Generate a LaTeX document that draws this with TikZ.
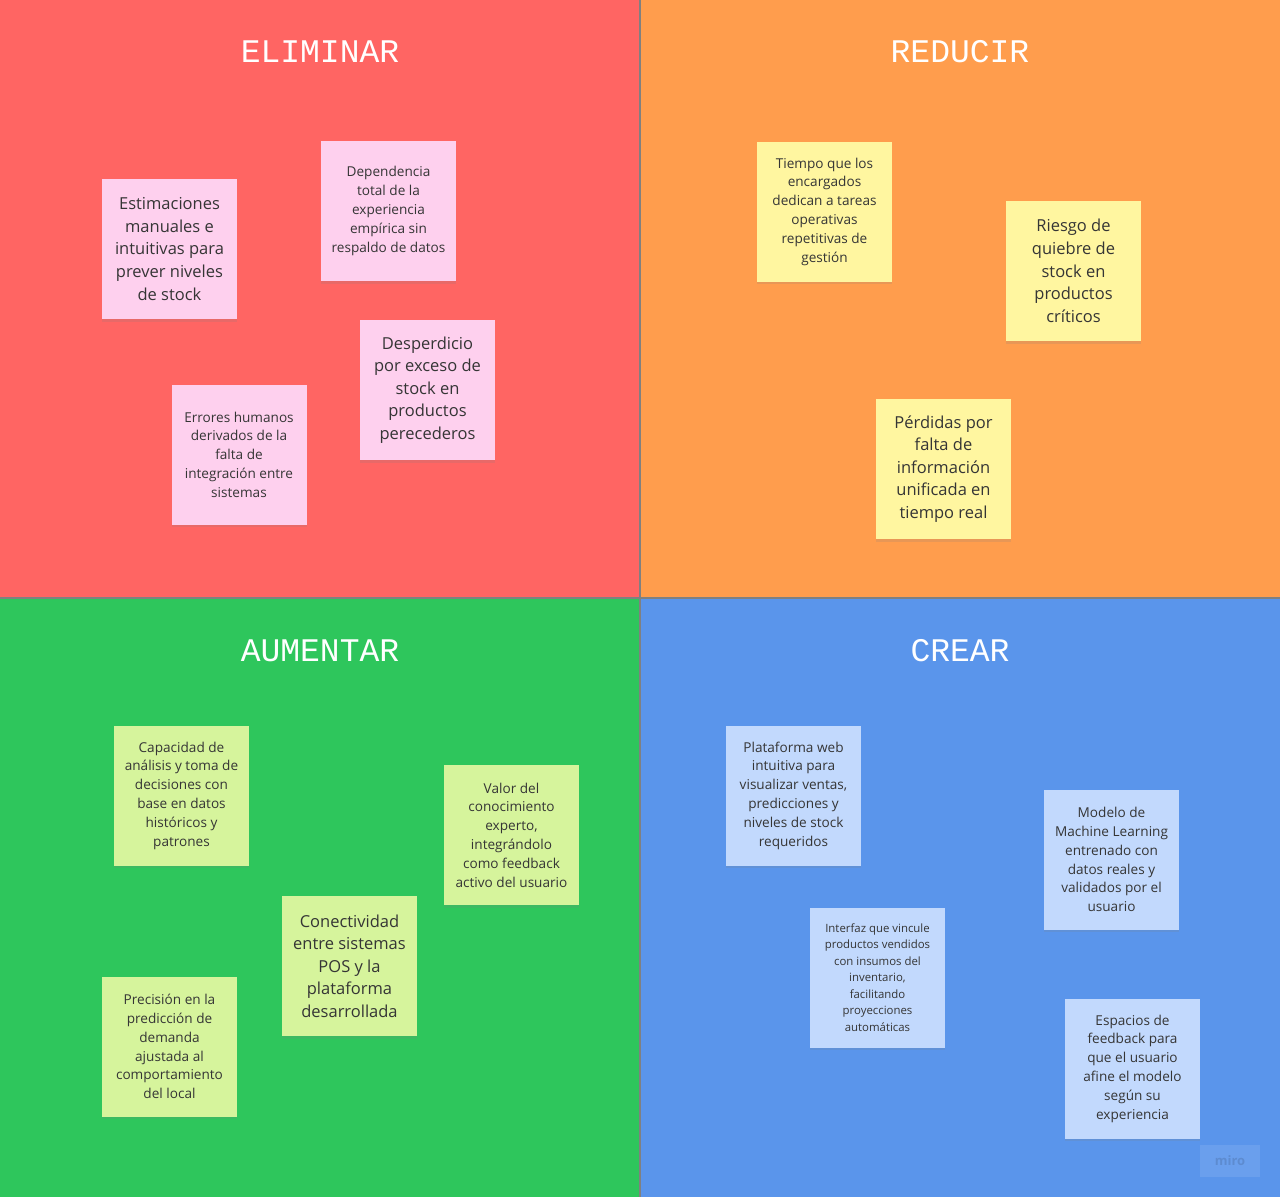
\documentclass[tikz,border=0pt]{standalone}
\usepackage{fontspec}
\setmainfont{Open Sans}
\newfontfamily\titlefont{Liberation Mono}
\usetikzlibrary{shadows}

\definecolor{qred}{HTML}{FF6563}
\definecolor{qorange}{HTML}{FF9D4D}
\definecolor{qgreen}{HTML}{2EC65C}
\definecolor{qblue}{HTML}{5A95EB}
\definecolor{npink}{HTML}{FED0EE}
\definecolor{nyellow}{HTML}{FFF6A0}
\definecolor{ngreen}{HTML}{D6F49C}
\definecolor{nblue}{HTML}{C2D9FD}
\definecolor{notetext}{HTML}{353535}
\definecolor{divider}{HTML}{808080}

\tikzset{
  note/.style={rectangle, minimum width=135pt, minimum height=140pt,
    inner sep=0pt, align=center, text=notetext,
    drop shadow={opacity=0.18, shadow xshift=0pt, shadow yshift=-2.5pt}},
  bigtxt/.style={font=\fontsize{16.5}{22.6}\selectfont},
  smalltxt/.style={font=\fontsize{13.6}{18.8}\selectfont},
  tinytxt/.style={font=\fontsize{11.4}{16.5}\selectfont},
  pinknote/.style={note, fill=npink},
  yellownote/.style={note, fill=nyellow},
  greennote/.style={note, fill=ngreen},
  bluenote/.style={note, fill=nblue},
  quadtitle/.style={text=white, font=\titlefont\fontsize{33}{33}\selectfont}
}

\begin{document}
\begin{tikzpicture}[x=1pt,y=-1pt]
\useasboundingbox (0,0) rectangle (1280,1197);

% quadrant backgrounds
\fill[qred]    (0,0)     rectangle (640,598);
\fill[qorange] (640,0)   rectangle (1280,598);
\fill[qgreen]  (0,598)   rectangle (640,1197);
\fill[qblue]   (640,598) rectangle (1280,1197);
\draw[divider, line width=1.5pt] (640,0) -- (640,1197);
\draw[divider, line width=1.5pt] (0,598) -- (1280,598);

% quadrant titles
\node[quadtitle] (tElim) at (320,52)  {ELIMINAR};
\node[quadtitle] (tRed)  at (960,52)  {REDUCIR};
\node[quadtitle] (tAum)  at (320,651) {AUMENTAR};
\node[quadtitle] (tCre)  at (960,651) {CREAR};

% ELIMINAR
\node[pinknote, bigtxt]   (e1) at (169.5,249)   {Estimaciones\\manuales e\\intuitivas para\\prever niveles\\de stock};
\node[pinknote, smalltxt] (e2) at (388.5,211)   {Dependencia\\total de la\\experiencia\\empírica sin\\respaldo de datos};
\node[pinknote, bigtxt]   (e3) at (427.5,390)   {Desperdicio\\por exceso de\\stock en\\productos\\perecederos};
\node[pinknote, smalltxt] (e4) at (239,454.5)   {Errores humanos\\derivados de la\\falta de\\integración entre\\sistemas};

% REDUCIR
\node[yellownote, smalltxt] (r1) at (824.5,211.5) {Tiempo que los\\encargados\\dedican a tareas\\operativas\\repetitivas de\\gestión};
\node[yellownote, bigtxt]   (r2) at (1073.5,271)  {Riesgo de\\quiebre de\\stock en\\productos\\críticos};
\node[yellownote, bigtxt]   (r3) at (943.5,469)   {Pérdidas por\\falta de\\información\\unificada en\\tiempo real};

% AUMENTAR
\node[greennote, smalltxt] (a1) at (181.5,795.5) {Capacidad de\\análisis y toma de\\decisiones con\\base en datos\\históricos y\\patrones};
\node[greennote, smalltxt] (a2) at (511.5,835)   {Valor del\\conocimiento\\experto,\\integrándolo\\como feedback\\activo del usuario};
\node[greennote, bigtxt]   (a3) at (349.5,966)   {Conectividad\\entre sistemas\\POS y la\\plataforma\\desarrollada};
\node[greennote, smalltxt] (a4) at (169.5,1046.5) {Precisión en la\\predicción de\\demanda\\ajustada al\\comportamiento\\del local};

% CREAR
\node[bluenote, smalltxt] (c1) at (793.5,795.5) {Plataforma web\\intuitiva para\\visualizar ventas,\\predicciones y\\niveles de stock\\requeridos};
\node[bluenote, smalltxt] (c2) at (1111.5,859.5) {Modelo de\\Machine Learning\\entrenado con\\datos reales y\\validados por el\\usuario};
\node[bluenote, tinytxt]  (c3) at (877.5,977.5) {Interfaz que vincule\\productos vendidos\\con insumos del\\inventario,\\facilitando\\proyecciones\\automáticas};
\node[bluenote, smalltxt] (c4) at (1132.5,1068.5) {Espacios de\\feedback para\\que el usuario\\afine el modelo\\según su\\experiencia};

% faint board badge
\node[rectangle, minimum width=60pt, minimum height=32pt, fill=white, fill opacity=0.1,
      text opacity=0.12, text=black, font=\fontsize{13}{13}\selectfont\bfseries]
      (badge) at (1230,1161) {miro};
\end{tikzpicture}
\end{document}
